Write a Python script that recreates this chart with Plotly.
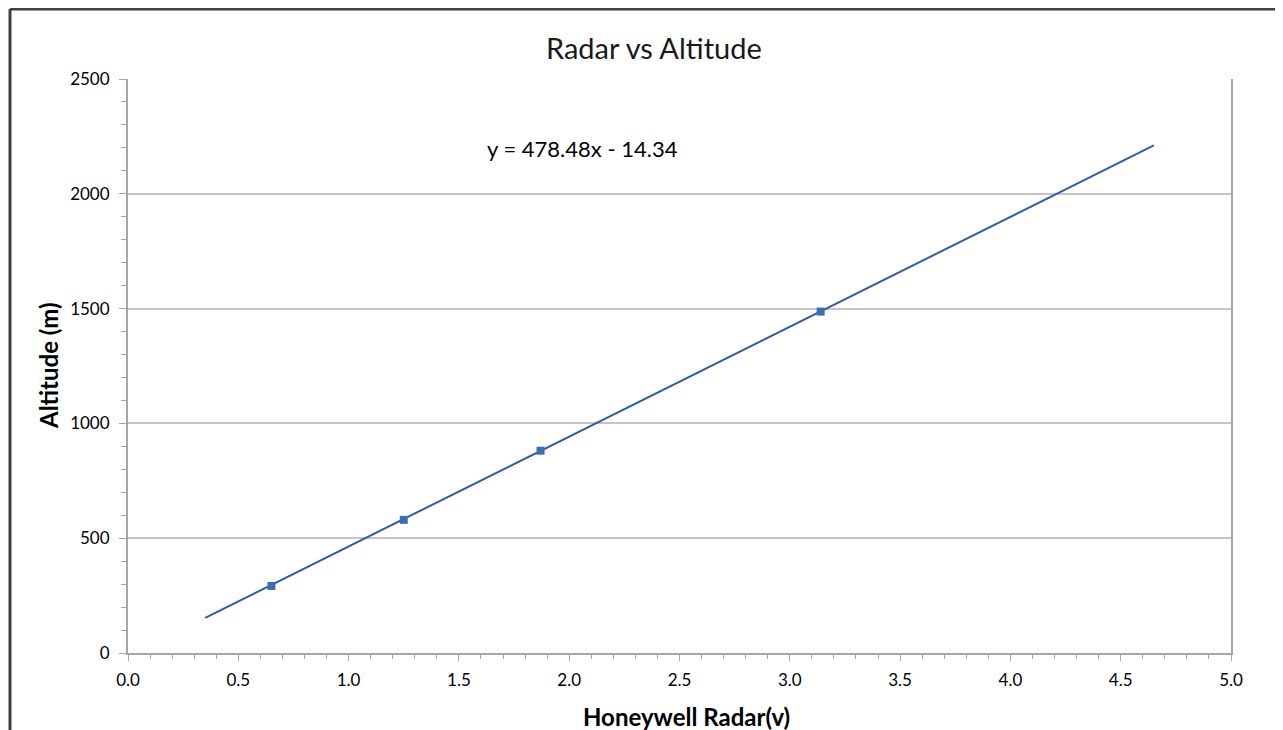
import plotly.graph_objects as go

# Data
radar_v = [0.65, 1.25, 1.87, 3.14]
altitude_m = [292, 580, 881, 1487]
trend_slope = 478.48
trend_intercept = -14.34
trend_x = [0.35, 4.65]
trend_y = [trend_slope * x + trend_intercept for x in trend_x]
x_ticks = [0.0, 0.5, 1.0, 1.5, 2.0, 2.5, 3.0, 3.5, 4.0, 4.5, 5.0]
y_ticks = [0, 500, 1000, 1500, 2000, 2500]

FONT = "Lato"
OFF = 8  # page body margin
W, H = 1283 - OFF, 730 - OFF
# target plot area in screenshot pixels: x 128..1231, y 79..653
L = 128 - OFF
T = 79 - OFF
R = W - (1231 - OFF)
B = H - (653 - OFF)
pw, ph = W - L - R, H - T - B

def px(xs):
    return (xs - 128) / pw

def py(ys):
    return (653 - ys) / ph

fig = go.Figure()
fig.add_trace(go.Scatter(x=trend_x, y=trend_y, mode="lines",
                         line=dict(color="#2f5e9c", width=2), showlegend=False))
fig.add_trace(go.Scatter(x=radar_v, y=altitude_m, mode="markers",
                         marker=dict(symbol="square", size=8, color="#3a6fb4"),
                         showlegend=False))

def label(xs, ys, text, size, angle=0, color="#000000"):
    fig.add_annotation(x=px(xs), y=py(ys), xref="paper", yref="paper",
                       xanchor="center", yanchor="middle",
                       text=text, showarrow=False, textangle=angle,
                       font=dict(family=FONT, size=size, color=color))

label(582, 148, "y = 478.48x - 14.34", 22)
label(654, 47, "Radar vs Altitude", 29, color="#1a1a1a")
label(686, 716, "<b>Honeywell Radar(v)</b>", 24)
label(48, 366, "<b>Altitude (m)</b>", 24, angle=-90)

fig.update_layout(
    width=W, height=H,
    margin=dict(l=L, r=R, t=T, b=B),
    paper_bgcolor="white", plot_bgcolor="white",
    font=dict(family=FONT, color="#000000"),
    xaxis=dict(range=[0, 5], tickvals=x_ticks, ticktext=[f"{v:.1f}" for v in x_ticks],
               showgrid=False, zeroline=False,
               showline=True, linecolor="#a6a6a6", linewidth=2,
               ticks="outside", ticklen=6, tickcolor="#a6a6a6", tickwidth=1,
               minor=dict(dtick=0.1, ticks="outside", ticklen=4, tickcolor="#a6a6a6"),
               ticklabelstandoff=5,
               tickfont=dict(family=FONT, size=17)),
    yaxis=dict(range=[0, 2500], tickvals=y_ticks,
               showgrid=True, gridcolor="#c4c4c4", gridwidth=2, zeroline=False,
               showline=True, linecolor="#a6a6a6", linewidth=2, mirror=True,
               ticks="outside", ticklen=7, tickcolor="#a6a6a6", tickwidth=1,
               minor=dict(dtick=100, ticks="outside", ticklen=5, tickcolor="#a6a6a6"),
               ticklabelstandoff=6,
               tickfont=dict(family=FONT, size=17)),
)

# outer chart frame (top and left edges visible)
fig.add_shape(type="line", xref="paper", yref="paper",
              x0=px(10), x1=px(1300), y0=py(9), y1=py(9),
              line=dict(color="#404040", width=3))
fig.add_shape(type="line", xref="paper", yref="paper",
              x0=px(10), x1=px(10), y0=py(9), y1=py(760),
              line=dict(color="#404040", width=3))

fig.write_html("out.html")
